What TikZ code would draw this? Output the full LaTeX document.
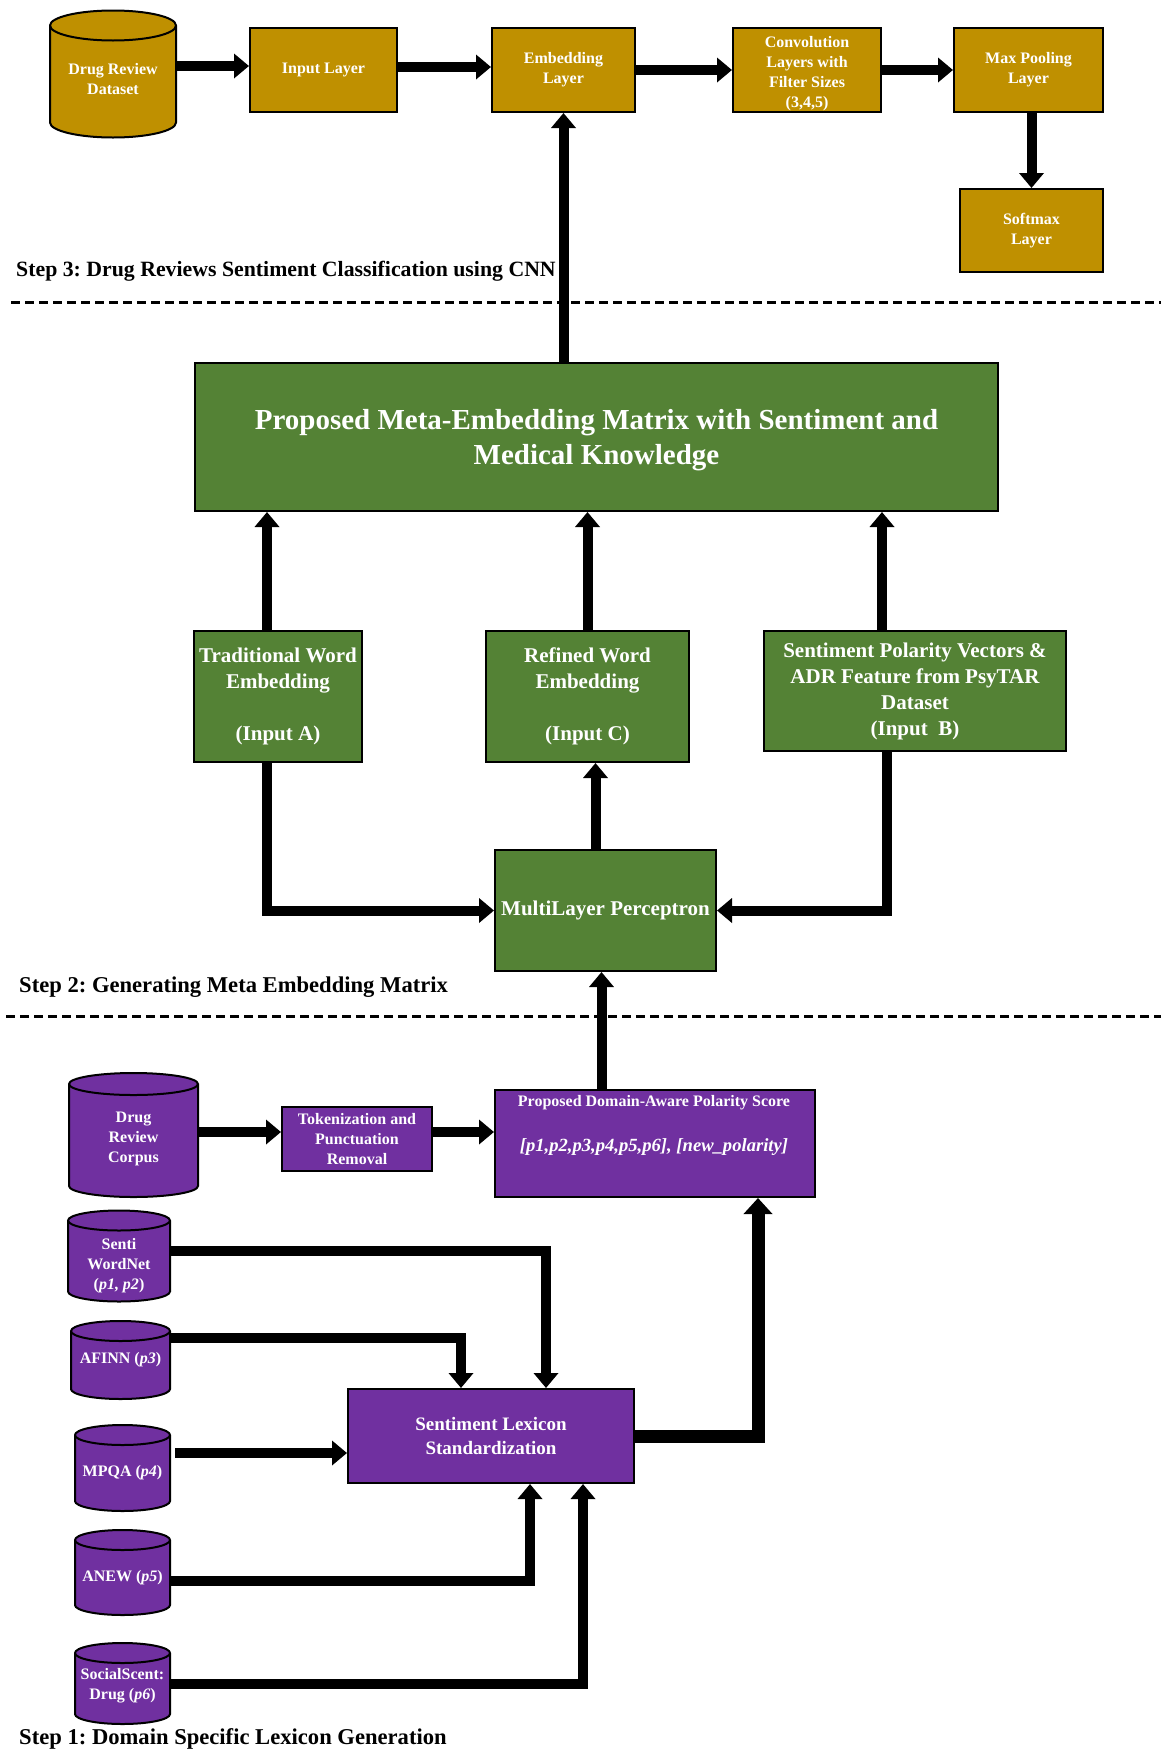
\documentclass[tikz,border=0pt]{standalone}
\usepackage{fontspec}
\setmainfont{Liberation Serif}
\usetikzlibrary{arrows.meta,calc}
\definecolor{gold}{HTML}{BF9000}
\definecolor{leaf}{HTML}{548235}
\definecolor{plum}{HTML}{7030A0}
\frenchspacing
\tikzset{
  box/.style={draw=black, line width=2pt, text=white, align=center, inner sep=0pt},
  goldbox/.style={box, fill=gold, font=\fontsize{16}{20}\selectfont\bfseries},
  greenbox/.style={box, fill=leaf, font=\fontsize{21}{26}\selectfont\bfseries},
  purplebox/.style={box, fill=plum, font=\fontsize{16}{20}\selectfont\bfseries},
  cylshape/.style={inner sep=0pt},
  cyltext/.style={text=white, align=center, inner sep=0pt, font=\fontsize{16}{20}\selectfont\bfseries},
  steplabel/.style={anchor=west, inner sep=0pt, font=\fontsize{22.6}{27}\selectfont\bfseries},
  dashline/.style={line width=3pt, dash pattern=on 9pt off 5pt},
  arr/.style={line width=10pt, -{Triangle[width=24pt,length=15pt]}},
  bigarr/.style={line width=13pt, -{Triangle[width=28pt,length=16pt]}},
}
% #1 name, #2 cx, #3 cy, #4 w, #5 h, #6 ellipse half height, #7 colour, #8 text, #9 text shift down
\newcommand\dbcyl[9]{%
  \begin{scope}[shift={(#2,#3)}]
    \filldraw[fill=#7, draw=black, line width=2pt]
      (-#4/2,#5/2-#6) -- (-#4/2,-#5/2+#6)
      arc[start angle=180,end angle=360,x radius=#4/2,y radius=#6]
      -- (#4/2,#5/2-#6)
      arc[start angle=0,end angle=180,x radius=#4/2,y radius=#6] -- cycle;
    \draw[line width=2pt] (-#4/2,#5/2-#6)
      arc[start angle=180,end angle=360,x radius=#4/2,y radius=#6];
  \end{scope}
  \node[cylshape, minimum width=#4pt, minimum height=#5pt] (#1) at (#2,#3) {};
  \node[cyltext] (#1t) at (#2,#3-#9) {#8};
}
\begin{document}
\begin{tikzpicture}[x=1pt,y=1pt]
\useasboundingbox (0,0) rectangle (1161,-1751);
\fill[white] (0,0) rectangle (1161,-1751);

% ---------------- Step 3 ----------------
\dbcyl{drug}{113}{-74}{126}{127}{15}{gold}{Drug Review\\Dataset}{5}
\node[goldbox, minimum width=147pt, minimum height=84pt] (input) at (323.5,-70) {Input Layer};
\node[goldbox, minimum width=143pt, minimum height=84pt] (embed) at (563.5,-70) {Embedding\\Layer};
\node[goldbox, minimum width=148pt, minimum height=84pt] (conv) at (807,-70) {};
\node[cyltext] (convt) at (807,-74) {Convolution\\Layers with\\Filter Sizes\\(3,4,5)};
\node[goldbox, minimum width=149pt, minimum height=84pt] (maxpool) at (1028.5,-70) {Max Pooling\\Layer};
\node[goldbox, minimum width=143pt, minimum height=83pt] (softmax) at (1031.5,-230.5) {Softmax\\Layer};

\coordinate (a1) at ($(input.west)+(0,4)$);
\draw[arr] (a1 -| drug.east) -- (a1);
\draw[arr] ([yshift=3pt]input.east) -- ([yshift=3pt]embed.west);
\draw[arr] (embed.east) -- (conv.west);
\draw[arr] (conv.east) -- (maxpool.west);
\draw[arr] (maxpool.south -| softmax.north) -- (softmax.north);

\node[steplabel, font=\fontsize{21.8}{26}\selectfont\bfseries] (s3) at (16,-271) {Step 3: Drug Reviews Sentiment Classification using CNN};
\draw[dashline] (11,-302.5) -- (1161,-302.5);

% ---------------- Step 2 ----------------
\node[greenbox, minimum width=803pt, minimum height=148pt] (meta) at (596.5,-437) {};
\node[cyltext, font=\fontsize{29}{35}\selectfont\bfseries] (metat) at (596.5,-440) {Proposed Meta-Embedding Matrix with Sentiment and\\Medical Knowledge};
\draw[arr] (embed.south |- meta.north) -- (embed.south);

\node[greenbox, minimum width=168pt, minimum height=131pt] (trad) at (278,-696.5) {Traditional Word\\Embedding\\[26pt](Input A)};
\node[greenbox, minimum width=203pt, minimum height=131pt] (refined) at (587.5,-696.5) {Refined Word\\Embedding\\[26pt](Input C)};
\node[greenbox, minimum width=302pt, minimum height=120pt] (sent) at (915,-691) {Sentiment Polarity Vectors \&\\ADR Feature from PsyTAR\\Dataset\\(Input\ \ B)};
\node[greenbox, minimum width=221pt, minimum height=121pt] (mlp) at (605.5,-910.5) {MultiLayer Perceptron};

\coordinate (ta) at ($(trad.north)+(-11,0)$);
\draw[arr] (ta) -- (ta |- meta.south);
\draw[arr] (refined.north) -- (refined.north |- meta.south);
\coordinate (sa) at ($(sent.north)+(-33,0)$);
\draw[arr] (sa) -- (sa |- meta.south);

\coordinate (tb) at ($(trad.south)+(-11,0)$);
\draw[arr] (tb) |- (mlp.west);
\coordinate (sb) at ($(sent.south)+(-28,0)$);
\draw[arr] (sb) |- (mlp.east);
\coordinate (ma) at ($(mlp.north)+(-10,0)$);
\draw[arr] (ma) -- (ma |- refined.south);

\node[steplabel] (s2) at (19,-987) {Step 2: Generating Meta Embedding Matrix};
\draw[dashline] (6,-1016) -- (1161,-1016);

% ---------------- Step 1 ----------------
\dbcyl{corpus}{133.5}{-1135}{129}{124}{11}{plum}{Drug\\Review\\Corpus}{4}
\node[purplebox, minimum width=150pt, minimum height=64pt] (token) at (357,-1139) {Tokenization and\\Punctuation\\Removal};
\node[purplebox, minimum width=320pt, minimum height=107pt] (domain) at (655,-1143.5) {};
\node[cyltext] (domaintitle) at (654,-1103) {Proposed Domain-Aware Polarity Score};
\node[cyltext, font=\fontsize{18.6}{22}\selectfont\bfseries\itshape] (domainlist) at (654,-1147) {[p1,p2,p3,p4,p5,p6], [new\_polarity]};

\coordinate (c1) at ($(token.west)+(0,7)$);
\draw[arr] (c1 -| corpus.east) -- (c1);
\coordinate (c2) at ($(token.east)+(0,7)$);
\draw[arr] (c2) -- (c2 -| domain.west);

\coordinate (da) at ($(mlp.south)+(-4,0)$);
\draw[arr] (da |- domain.north) -- (da);

\dbcyl{swn}{119}{-1256}{102}{91}{10}{plum}{Senti\\WordNet\\(\textit{p1, p2})}{10}
\dbcyl{afinn}{120.5}{-1360}{99}{78}{10}{plum}{AFINN (\textit{p3})}{0}
\dbcyl{mpqa}{122.5}{-1468}{95}{86}{10}{plum}{MPQA (\textit{p4})}{5}
\dbcyl{anew}{122.5}{-1572.5}{95}{85}{10}{plum}{ANEW (\textit{p5})}{5}
\dbcyl{ss}{122.5}{-1683.5}{95}{81}{10}{plum}{SocialScent:\\Drug (\textit{p6})}{2}

\node[purplebox, minimum width=286pt, minimum height=94pt, font=\fontsize{19}{23.5}\selectfont\bfseries] (lex) at (491,-1436) {Sentiment Lexicon\\Standardization};

\coordinate (l1) at ($(lex.north)+(55,0)$);
\draw[arr] ([yshift=5pt]swn.east) -| (l1);
\coordinate (l2) at ($(lex.north)+(-30,0)$);
\draw[arr] ([yshift=22pt]afinn.east) -| (l2);
\coordinate (l3) at ($(mpqa.east)+(5,15)$);
\draw[arr] (l3) -- (l3 -| lex.west);
\coordinate (l4) at ($(lex.south)+(39,0)$);
\draw[arr] ([yshift=-8pt]anew.east) -| (l4);
\coordinate (l5) at ($(lex.south)+(92,0)$);
\draw[arr] (ss.east) -| (l5);
\coordinate (l6) at ($(domain.south)+(103,0)$);
\draw[bigarr] (lex.east) -| (l6);

\node[steplabel] (s1) at (19,-1739) {Step 1: Domain Specific Lexicon Generation};
\end{tikzpicture}
\end{document}
